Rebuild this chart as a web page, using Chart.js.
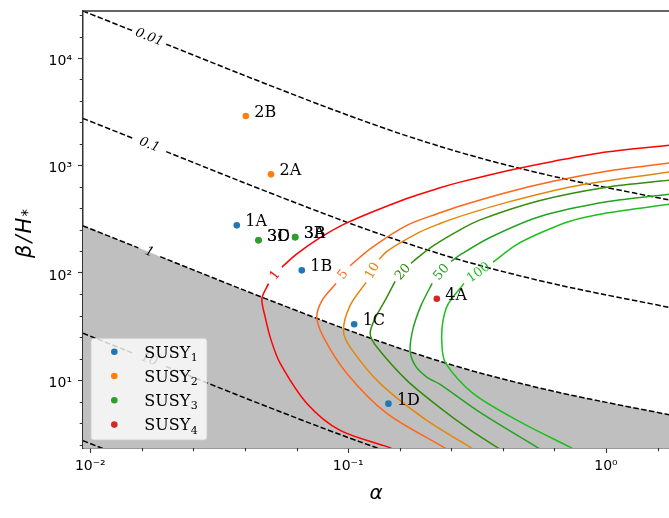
<!DOCTYPE html>
<html><head><meta charset="utf-8">
<script src="https://cdn.jsdelivr.net/npm/chart.js@4.4.1/dist/chart.umd.min.js"></script>
<style>html,body{margin:0;padding:0;background:#fff}canvas{display:block}</style>
</head><body>
<canvas id="c" width="669" height="518"></canvas>
<script>
// ---------- axis ranges & ticks ----------
const xRange = [0.00937, 1.755];
const yRange = [2.343, 27390];
const xTickValues = [0.01, 0.1, 1];
const xTickLabels = ['10\u207B\u00B2', '10\u207B\u00B9', '10\u2070'];
const yTickValues = [10, 100, 1000, 10000];
const yTickLabels = ['10\u00B9', '10\u00B2', '10\u00B3', '10\u2074'];

// ---------- dashed iso-lines (black) ----------
const dashLevels = ['0.01', '0.1', '1', '10', '100'];
const dashX = [0.00937, 0.01455, 0.01535, 0.01708, 0.01868, 0.01970, 0.03815, 0.05451, 0.07788, 0.1113, 0.1590, 0.2273, 0.3247, 0.4642, 0.6632, 0.9478, 1.755];
const dash001Y = [27400, 17990, null, null, null, 13440, 7130, 5101, 3666, 2669, 1977, 1503, 1172, 938, 766, 640, 478];
const dash01Y  = [2740, 1799, null, null, null, 1344, 713, 510, 367, 267, 198, 150, 117, 93.8, 76.6, 64.0, 47.8];
const dash1Y   = [274, 179.9, 170.9, null, 141.5, 134.4, 71.3, 51.0, 36.7, 26.7, 19.8, 15.0, 11.7, 9.38, 7.66, 6.40, 4.78];
const dash10Y  = [27.4, 17.99, null, null, null, 13.44, 7.13, 5.10, 3.67, 2.67, 1.98, 1.50, 1.17, 0.938, 0.766, 0.640, 0.478];
const dash100Y = [2.74, 1.799, 1.709, 1.551, 1.415, 1.344, 0.713, 0.510, 0.367, 0.267, 0.198, 0.150, 0.117, 0.0938, 0.0766, 0.0640, 0.0478];
// boundary of the grey excluded region (level "1" curve, without the label gap)
const greyY    = [274, 179.9, 170.9, 155.1, 141.5, 134.4, 71.3, 51.0, 36.7, 26.7, 19.8, 15.0, 11.7, 9.38, 7.66, 6.40, 4.78];

// ---------- coloured SNR contours ----------
const contourLevels = ['1', '5', '10', '20', '50', '100'];
const contourColors = ['#ff0000', '#ff6619', '#e5860c', '#338c0c', '#22a322', '#1cbf1c'];
const c1X = [1.755, 0.9479, 0.6231, 0.4360, 0.2716, 0.2273, 0.1689, 0.09885, 0.07788, 0.06326, 0.05534, 0.0521, 0.04911, 0.04629, 0.04767, 0.05029, 0.05451, 0.06918, 0.09311, 0.1433, 0.1521];
const c1Y = [1539, 1307, 1090, 918.0, 699.0, 619.6, 491.8, 292.2, 212.7, 150.0, 113.2, null, 79.32, 57.52, 38.77, 23.52, 14.37, 6.094, 3.417, 2.388, 2.225];
const c5X = [1.755, 1.006, 0.6231, 0.4122, 0.2716, 0.2273, 0.1689, 0.1217, 0.1018, 0.0956, 0.08985, 0.07928, 0.07561, 0.08021, 0.09885, 0.1413, 0.2341, 0.2485];
const c5Y = [1053, 885.0, 711.2, 560.5, 419.6, 362.7, 276.9, 167.6, 116.5, null, 79.83, 55.45, 38.77, 25.25, 11.59, 4.918, 2.388, 2.201];
const c10X = [1.755, 0.7451, 0.4122, 0.2716, 0.2273, 0.1901, 0.1413, 0.1319, 0.1244, 0.1174, 0.1018, 0.09589, 0.1018, 0.1330, 0.2018, 0.2971, 0.3134];
const c10Y = [868.0, 637.6, 453.3, 335.8, 287.8, 240.4, 158.9, 133.6, null, 81.56, 49.82, 29.14, 20.38, 9.356, 4.233, 2.388, 2.201];
const c20X = [1.755, 1.006, 0.5548, 0.3247, 0.2716, 0.2136, 0.1846, 0.1754, 0.1633, 0.1521, 0.1391, 0.1272, 0.1217, 0.1292, 0.1689, 0.2273, 0.2971, 0.3771, 0.3989];
const c20Y = [726.5, 626.6, 471.2, 311.5, 251.4, 178.4, 136.5, 122.6, null, 83.35, 55.45, 37.71, 27.16, 20.38, 9.979, 5.534, 3.453, 2.388, 2.201];
const c50X = [1.755, 1.006, 0.5548, 0.3551, 0.2716, 0.2507, 0.2304, 0.2117, 0.1918, 0.1786, 0.1739, 0.1818, 0.2018, 0.2273, 0.3247, 0.5387, 0.5700];
const c50Y = [538.1, 458.2, 334.4, 213.2, 146.8, 127.7, null, 79.83, 49.82, 30.42, 18.99, 13.76, 10.71, 9.158, 5.024, 2.388, 2.201];
const c100X = [1.755, 1.006, 0.7253, 0.5548, 0.4440, 0.3648, 0.3205, 0.2815, 0.2447, 0.2334, 0.2307, 0.2377, 0.3059, 0.4781, 0.7253, 0.7721];
const c100Y = [434.3, 360.4, 302.9, 234.8, 179.6, 125.8, null, 79.83, 51.67, 36.12, 23.52, 14.77, 7.505, 3.944, 2.388, 2.201];

// ---------- benchmark points ----------
const seriesBase = 'SUSY';
const seriesSubs = ['1', '2', '3', '4'];
const seriesColors = ['#1f77b4', '#ff7f0e', '#2ca02c', '#d62728'];
const susy1Names = ['1A', '1B', '1C', '1D'];
const susy1X = [0.0370, 0.0661, 0.1055, 0.1433];
const susy1Y = [277, 105.5, 33.2, 6.06];
const susy2Names = ['2A', '2B'];
const susy2X = [0.0502, 0.0401];
const susy2Y = [826, 2884];
const susy3Names = ['3A', '3B', '3C', '3D'];
const susy3X = [0.0623, 0.0623, 0.0449, 0.0449];
const susy3Y = [215, 215, 201, 201];
const susy4Names = ['4A'];
const susy4X = [0.2207];
const susy4Y = [57.5];

// ---------- build datasets ----------
const pts = (xs, ys) => xs.map((x, i) => ({x: x, y: ys[i]}));
const datasets = [];
datasets.push({label: 'excluded', data: pts(dashX, greyY), borderWidth: 0, pointRadius: 0,
  fill: 'start', backgroundColor: '#bfbfbf', borderColor: 'rgba(0,0,0,0)', order: 10, tension: 0.3});
[dash001Y, dash01Y, dash1Y, dash10Y, dash100Y].forEach((ys, k) => {
  datasets.push({label: 'dash ' + dashLevels[k], data: pts(dashX, ys), borderColor: '#000',
    borderWidth: 1.5, borderDash: [5.5, 2.4], pointRadius: 0, fill: false, tension: 0.3, order: 3,
    levelLabel: dashLevels[k], labelColor: '#000', labelFont: 'italic 13px "DejaVu Serif"'});
});
[[c1X, c1Y], [c5X, c5Y], [c10X, c10Y], [c20X, c20Y], [c50X, c50Y], [c100X, c100Y]].forEach((c, k) => {
  datasets.push({label: 'SNR ' + contourLevels[k], data: pts(c[0], c[1]), borderColor: contourColors[k],
    borderWidth: 1.5, pointRadius: 0, fill: false, tension: 0.3, order: 2,
    levelLabel: contourLevels[k], labelColor: contourColors[k], labelFont: '13px "DejaVu Serif"'});
});
[[susy1X, susy1Y, susy1Names], [susy2X, susy2Y, susy2Names], [susy3X, susy3Y, susy3Names], [susy4X, susy4Y, susy4Names]].forEach((s, k) => {
  datasets.push({label: seriesBase + seriesSubs[k], data: pts(s[0], s[1]), showLine: false,
    pointRadius: 3.3, pointBorderWidth: 0, pointBackgroundColor: seriesColors[k], backgroundColor: seriesColors[k],
    borderColor: seriesColors[k], order: 0, pointNames: s[2], isSeries: true, sub: seriesSubs[k]});
});

const minorTicks = (lo, hi) => {
  const out = [];
  for (let e = Math.floor(Math.log10(lo)); e <= Math.ceil(Math.log10(hi)); e++)
    for (let j = 1; j < 5; j++) { const v = Math.pow(10, e + 0.2 * j); if (v >= lo && v <= hi) out.push(v); }
  return out;
};

const overlay = {
  id: 'overlay',
  afterDatasetsDraw(chart) {
    const ctx = chart.ctx, xs = chart.scales.x, ys = chart.scales.y, ca = chart.chartArea;
    ctx.save();
    ctx.beginPath(); ctx.rect(ca.left, ca.top, ca.right - ca.left, ca.bottom - ca.top); ctx.clip();
    chart.data.datasets.forEach(ds => {
      if (!ds.levelLabel) return;
      const d = ds.data;
      const i = d.findIndex(p => p.y === null);
      if (i < 1) return;
      let j = i; while (j < d.length && d[j].y === null) j++;
      const a = d[i - 1], b = d[j];
      const ax = xs.getPixelForValue(a.x), ay = ys.getPixelForValue(a.y);
      const bx = xs.getPixelForValue(b.x), by = ys.getPixelForValue(b.y);
      let ang = Math.atan2(by - ay, bx - ax);
      if (ang > Math.PI / 2) ang -= Math.PI; else if (ang < -Math.PI / 2) ang += Math.PI;
      ctx.save();
      ctx.translate((ax + bx) / 2, (ay + by) / 2); ctx.rotate(ang);
      ctx.font = ds.labelFont; ctx.fillStyle = ds.labelColor;
      ctx.textAlign = 'center'; ctx.textBaseline = 'middle';
      ctx.fillText(ds.levelLabel, 0, 0);
      ctx.restore();
    });
    // point names
    ctx.font = '16px "DejaVu Serif"'; ctx.fillStyle = '#000';
    ctx.textAlign = 'left'; ctx.textBaseline = 'alphabetic';
    chart.data.datasets.forEach(ds => {
      if (!ds.isSeries) return;
      ds.data.forEach((p, i) => {
        const px = xs.getPixelForValue(p.x), py = ys.getPixelForValue(p.y);
        ctx.fillText(ds.pointNames[i], px + 8.5, py + 1);
      });
    });
    ctx.restore();
  },
  afterDraw(chart) {
    const ctx = chart.ctx, xs = chart.scales.x, ys = chart.scales.y, ca = chart.chartArea;
    ctx.save();
    // top spine
    ctx.strokeStyle = '#333'; ctx.lineWidth = 1.5;
    ctx.beginPath(); ctx.moveTo(ca.left - 0.75, ca.top); ctx.lineTo(ca.right, ca.top); ctx.stroke();
    // minor ticks
    ctx.lineWidth = 1.1;
    ctx.beginPath();
    minorTicks(xRange[0], xRange[1]).forEach(v => {
      if (xTickValues.some(t => Math.abs(Math.log10(t) - Math.log10(v)) < 1e-6)) return;
      const px = Math.round(xs.getPixelForValue(v)) + 0.5;
      ctx.moveTo(px, ca.bottom); ctx.lineTo(px, ca.bottom + 3.3);
    });
    minorTicks(yRange[0], yRange[1]).forEach(v => {
      if (yTickValues.some(t => Math.abs(Math.log10(t) - Math.log10(v)) < 1e-6)) return;
      const py = Math.round(ys.getPixelForValue(v)) + 0.5;
      ctx.moveTo(ca.left, py); ctx.lineTo(ca.left - 3.3, py);
    });
    ctx.stroke();
    // axis titles
    ctx.fillStyle = '#000';
    ctx.font = 'italic 20px "DejaVu Sans"'; ctx.textAlign = 'center'; ctx.textBaseline = 'alphabetic';
    ctx.fillText('\u03B1', (ca.left + ca.right) / 2, 499);
    ctx.save();
    ctx.translate(31, (ca.top + ca.bottom) / 2 + 4); ctx.rotate(-Math.PI / 2);
    const parts = ['\u03B2', '/', 'H'];
    const gap = 2;
    ctx.font = 'italic 21px "DejaVu Sans"';
    const widths = parts.map(p => ctx.measureText(p).width);
    ctx.font = 'italic 15px "DejaVu Sans"';
    const wSub = ctx.measureText('*').width;
    const total = widths.reduce((a, b) => a + b, 0) + gap * 2 + 1 + wSub;
    let cx = -total / 2;
    ctx.textAlign = 'left';
    ctx.font = 'italic 21px "DejaVu Sans"';
    parts.forEach((p, i) => { ctx.fillText(p, cx, 0); cx += widths[i] + (i < 2 ? gap : 0); });
    ctx.font = 'italic 15px "DejaVu Sans"';
    ctx.fillText('*', cx + 1, 2);
    ctx.restore();
    // legend
    const bw = 116, bh = 101.7;
    const bx = ca.left + 8, by = ca.bottom - 8 - bh;
    ctx.beginPath(); ctx.roundRect(bx, by, bw, bh, 3);
    ctx.fillStyle = 'rgba(255,255,255,0.8)'; ctx.fill();
    ctx.strokeStyle = 'rgba(204,204,204,0.8)'; ctx.lineWidth = 1; ctx.stroke();
    const series = chart.data.datasets.filter(ds => ds.isSeries);
    series.forEach((ds, i) => {
      const cy = by + 13.4 + i * 24.3;
      ctx.beginPath(); ctx.arc(bx + 23.3, cy, 3.3, 0, Math.PI * 2);
      ctx.fillStyle = ds.pointBackgroundColor; ctx.fill();
      ctx.fillStyle = '#000'; ctx.textAlign = 'left'; ctx.textBaseline = 'alphabetic';
      ctx.font = '16px "DejaVu Serif"';
      ctx.fillText(seriesBase, bx + 53.3, cy + 5.8);
      const w = ctx.measureText(seriesBase).width;
      ctx.font = '11px "DejaVu Serif"';
      ctx.fillText(ds.sub, bx + 53.3 + w + 0.5, cy + 9);
    });
    ctx.restore();
  }
};

new Chart(document.getElementById('c'), {
  type: 'line',
  data: {datasets: datasets},
  options: {
    responsive: false, animation: false, devicePixelRatio: 1,
    layout: {autoPadding: false, padding: {top: 11, right: 0, left: 0, bottom: 0}},
    plugins: {legend: {display: false}, tooltip: {enabled: false}},
    scales: {
      x: {
        type: 'logarithmic', min: xRange[0], max: xRange[1], bounds: 'data', z: 1,
        afterBuildTicks: s => { s.ticks = xTickValues.map(v => ({value: v})); },
        afterFit: s => { s.height = 70; s.paddingLeft = 0; s.paddingRight = 0; },
        ticks: {autoSkip: false, maxRotation: 0, padding: 5, color: '#000',
          font: {family: 'DejaVu Sans', size: 14},
          callback: (v, i) => xTickLabels[i]},
        grid: {drawOnChartArea: false, tickLength: 5, tickColor: '#333', tickWidth: 1.1},
        border: {color: '#333', width: 1.5}
      },
      y: {
        type: 'logarithmic', min: yRange[0], max: yRange[1], bounds: 'data', z: 1,
        afterBuildTicks: s => { s.ticks = yTickValues.map(v => ({value: v})); },
        afterFit: s => { s.width = 83; s.paddingTop = 0; s.paddingBottom = 0; },
        ticks: {autoSkip: false, padding: 6, color: '#000', labelOffset: 3,
          font: {family: 'DejaVu Sans', size: 14},
          callback: (v, i) => yTickLabels[i]},
        grid: {drawOnChartArea: false, tickLength: 5, tickColor: '#333', tickWidth: 1.1},
        border: {color: '#333', width: 1.5}
      }
    }
  },
  plugins: [overlay]
});
</script>
</body></html>
